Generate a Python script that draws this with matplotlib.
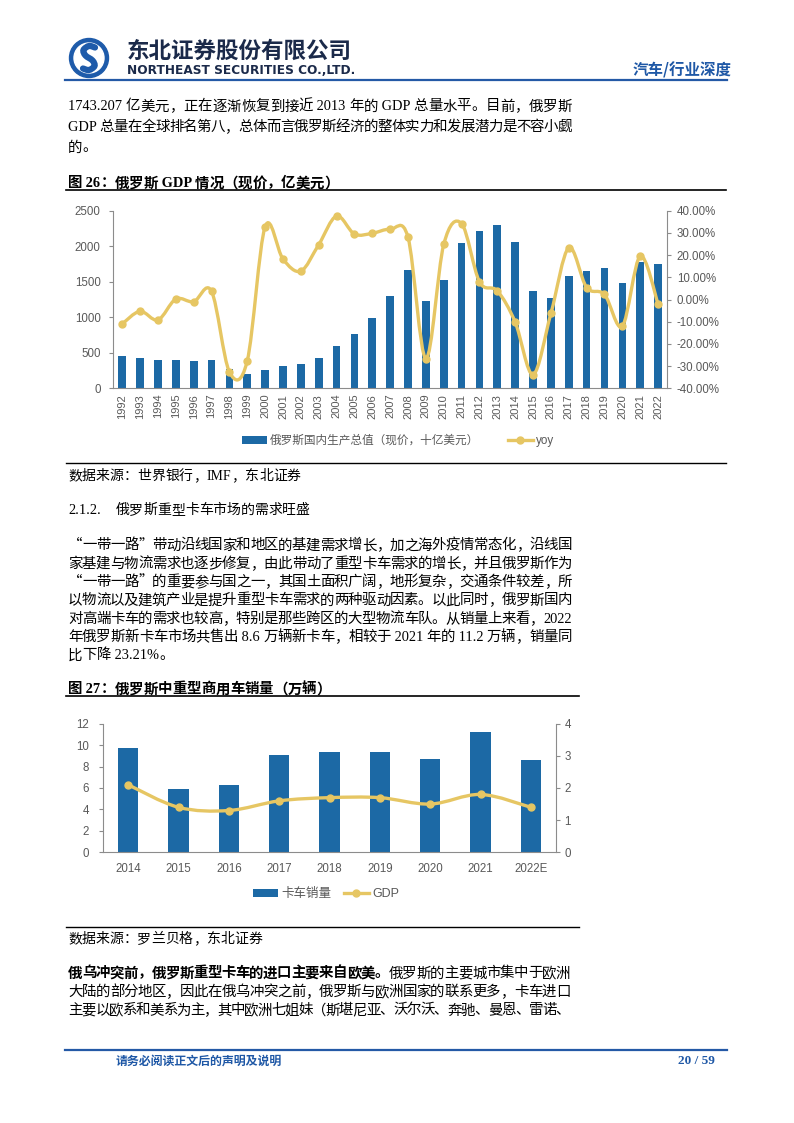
import matplotlib
matplotlib.use('Agg')
import matplotlib.pyplot as plt
from matplotlib.patches import Circle, PathPatch
from matplotlib.path import Path
from matplotlib.lines import Line2D
from matplotlib.ticker import FuncFormatter, MultipleLocator

plt.rcParams['font.family'] = ['Liberation Sans', 'Noto Sans CJK SC']

# ---- data: figure 26 ----
years1 = ['1992', '1993', '1994', '1995', '1996', '1997', '1998', '1999', '2000', '2001',
          '2002', '2003', '2004', '2005', '2006', '2007', '2008', '2009', '2010', '2011',
          '2012', '2013', '2014', '2015', '2016', '2017', '2018', '2019', '2020', '2021', '2022']
gdp_bn = [455, 430, 395, 395, 391, 404, 270, 196, 260, 307,
          345, 430, 591, 764, 990, 1300, 1661, 1222, 1525, 2046,
          2212, 2294, 2059, 1363, 1277, 1575, 1657, 1693, 1489, 1778, 1746]
yoy_pct = [-11.0, -5.3, -9.2, 0.2, -1.0, 3.7, -32.6, -27.6, 32.8, 18.2,
           12.8, 24.7, 37.6, 29.5, 29.8, 31.6, 28.0, -26.6, 24.8, 34.2,
           8.0, 3.9, -10.2, -33.8, -6.3, 23.3, 5.4, 2.3, -12.0, 19.5, -2.0]

# ---- data: figure 27 ----
years2 = ['2014', '2015', '2016', '2017', '2018', '2019', '2020', '2021', '2022E']
truck_sales = [9.7, 5.9, 6.3, 9.1, 9.4, 9.4, 8.7, 11.2, 8.6]
gdp_line = [2.1, 1.4, 1.3, 1.6, 1.7, 1.7, 1.5, 1.8, 1.4]

CJK = 'Noto Sans CJK SC'
SERIF = 'Liberation Serif'
BLUE = '#1C69A5'
GOLD = '#E6C663'
GREY = '#595959'
AXC = '#8C8C8C'
NAVY = '#1F58A6'

W, H = 794, 1123
fig = plt.figure(figsize=(W / 100, H / 100), dpi=100)
pg = fig.add_axes([0, 0, 1, 1], zorder=0)
pg.set_xlim(0, W)
pg.set_ylim(H, 0)
pg.axis('off')
rend = fig.canvas.get_renderer()


def fx(x):
    return x / W


def fy(y):
    return 1 - y / H


def wid(s, fam, wt, size):
    t = pg.text(0, 0, s, fontsize=size, family=fam, fontweight=wt)
    w = t.get_window_extent(rend).width
    t.remove()
    return w


adv_cache = {}


def adv(tk, fam, wt, size):
    key = (tk, wt, size)
    if key not in adv_cache:
        base = wid('\u4e00\u4e00', [fam, CJK], wt, size)
        adv_cache[key] = wid('\u4e00' + tk + '\u4e00', [fam, CJK], wt, size) - base
    return adv_cache[key]


def tokens(s):
    out = []
    buf = ''
    for ch in s:
        if ord(ch) < 0x2000:
            buf += ch
        else:
            if buf:
                out.append(buf)
                buf = ''
            out.append(ch)
    if buf:
        out.append(buf)
    return out


def put_line(x0, y, segs, size=10.4, x1=None, color='black'):
    # segs: list of (text, weight); y is the visual centre line in page px
    items = []
    for s, wt in segs:
        for tk in tokens(s):
            items.append((tk, wt))
    px = size * 100 / 72
    fams = [CJK if ord(tk[0]) >= 0x2000 else SERIF for tk, _ in items]
    widths = [adv(tk, f, wt, size) for (tk, wt), f in zip(items, fams)]
    gap = 0
    if x1 is not None and len(items) > 1:
        gap = (x1 - x0 - sum(widths)) / (len(items) - 1)
    x = x0
    for (tk, wt), f, w in zip(items, fams, widths):
        pg.text(x, y + 0.38 * px, tk, fontsize=size, family=f, fontweight=wt,
                color=color, va='baseline', ha='left')
        x += w + gap


def fit(x0, x1, y, s, fam, wt, color, base=10):
    w = wid(s, fam, wt, base)
    pg.text(x0, y, s, fontsize=base * (x1 - x0) / w, family=fam, fontweight=wt,
            color=color, va='center', ha='left')


def smooth_path(xs, ys):
    pts = list(zip(xs, ys))
    n = len(pts)
    verts = [pts[0]]
    codes = [Path.MOVETO]
    for i in range(n - 1):
        p0 = pts[i - 1] if i > 0 else pts[i]
        p1 = pts[i]
        p2 = pts[i + 1]
        p3 = pts[i + 2] if i + 2 < n else pts[i + 1]
        c1 = (p1[0] + (p2[0] - p0[0]) / 6, p1[1] + (p2[1] - p0[1]) / 6)
        c2 = (p2[0] - (p3[0] - p1[0]) / 6, p2[1] - (p3[1] - p1[1]) / 6)
        verts += [c1, c2, p2]
        codes += [Path.CURVE4] * 3
    return Path(verts, codes)


# ---------------- header ----------------
pg.add_patch(Circle((89, 58), 19.5, color='#1E5BAA'))
pg.add_patch(Circle((89, 58), 15, color='white'))
sx = [95, 89, 83.5, 85.5, 92.5, 94.5, 89, 83]
sy = [47.5, 46, 50, 55.5, 60.5, 66, 70, 68.5]
pg.add_patch(PathPatch(smooth_path(sx, sy), fill=False, edgecolor='#1E5BAA', lw=4.5,
                       capstyle='round'))
fit(127, 352, 51, '东北证券股份有限公司', CJK, 'bold', '#1B2A4A')
fit(127, 355, 70.5, 'NORTHEAST SECURITIES CO.,LTD.', 'DejaVu Sans', 'bold', '#1B2A4A')
fit(633, 732, 70, '汽车/行业深度', CJK, 'bold', NAVY)
pg.plot([65, 727], [80, 80], color='#2459A6', lw=1.6)

# ---------------- paragraph 1 ----------------
p1 = ['1743.207 亿美元，正在逐渐恢复到接近 2013 年的 GDP 总量水平。目前，俄罗斯',
      'GDP 总量在全球排名第八，总体而言俄罗斯经济的整体实力和发展潜力是不容小觑',
      '的。']
for i, s in enumerate(p1):
    put_line(68, 105 + 20.5 * i, [(s, 'normal')], x1=572 if i < len(p1) - 1 else None)

put_line(68, 182, [('图 26：俄罗斯 GDP 情况（现价，亿美元）', 'bold')])
pg.plot([66, 726], [189.5, 189.5], color='black', lw=1.2)

# ---------------- figure 26 ----------------
ax = fig.add_axes([fx(113.3), fy(388.3), (667 - 113.3) / W, (388.3 - 210.7) / H], zorder=2)
ax.set_facecolor('none')
x1s = list(range(len(years1)))
bars = ax.bar(x1s, gdp_bn, width=0.43, color=BLUE, zorder=2)
ax.set_xlim(-0.5, len(years1) - 0.5)
ax.set_ylim(0, 2500)
ax.yaxis.set_major_locator(MultipleLocator(500))
ax.set_xticks(x1s)
ax.set_xticklabels(years1, rotation=90)
ax.tick_params(axis='x', length=0, pad=4, labelsize=8, labelcolor=GREY)
ax.tick_params(axis='y', length=3, pad=6, labelsize=8.3, labelcolor=GREY, color=AXC)
for k in ['top', 'right']:
    ax.spines[k].set_visible(False)
for k in ['left', 'bottom']:
    ax.spines[k].set_color(AXC)
    ax.spines[k].set_linewidth(0.8)

ax2 = ax.twinx()
ax2.set_ylim(-40, 40)
ax2.yaxis.set_major_locator(MultipleLocator(10))
ax2.yaxis.set_major_formatter(FuncFormatter(lambda v, _: f'{v:.2f}%'))
ax2.tick_params(axis='y', length=3, pad=4, labelsize=8.3, labelcolor=GREY, color=AXC)
for k in ['top', 'left', 'bottom']:
    ax2.spines[k].set_visible(False)
ax2.spines['right'].set_color(AXC)
ax2.spines['right'].set_linewidth(0.8)
ax2.add_patch(PathPatch(smooth_path(x1s, yoy_pct), fill=False, edgecolor=GOLD, lw=2.4,
                        capstyle='round', joinstyle='round'))
ax2.plot(x1s, yoy_pct, 'o', color=GOLD, ms=5)
ax2.legend([bars, Line2D([0], [0], color=GOLD, lw=2.4, marker='o', ms=5)],
           ['俄罗斯国内生产总值（现价，十亿美元）', 'yoy'],
           loc='center', bbox_to_anchor=(fx(398), fy(441)), bbox_transform=fig.transFigure,
           ncol=2, frameon=False, fontsize=8.4, handlelength=2.15, handleheight=0.6,
           handletextpad=0.3, columnspacing=2.4, labelcolor=GREY)

pg.plot([66, 726], [463, 463], color='black', lw=1.0)
put_line(68, 474.5, [('数据来源：世界银行，IMF，东北证券', 'normal')], size=10)

# ---------------- section 2.1.2 ----------------
put_line(68, 509, [('2.1.2.', 'normal')])
put_line(115.5, 509, [('俄罗斯重型卡车市场的需求旺盛', 'normal')], size=10)

p2 = ['“一带一路”带动沿线国家和地区的基建需求增长，加之海外疫情常态化，沿线国',
      '家基建与物流需求也逐步修复，由此带动了重型卡车需求的增长，并且俄罗斯作为',
      '“一带一路”的重要参与国之一，其国土面积广阔，地形复杂，交通条件较差，所',
      '以物流以及建筑产业是提升重型卡车需求的两种驱动因素。以此同时，俄罗斯国内',
      '对高端卡车的需求也较高，特别是那些跨区的大型物流车队。从销量上来看，2022',
      '年俄罗斯新卡车市场共售出 8.6 万辆新卡车，相较于 2021 年的 11.2 万辆，销量同',
      '比下降 23.21%。']
for i, s in enumerate(p2):
    put_line(68, 544 + 18.3 * i, [(s, 'normal')], x1=572 if i < len(p2) - 1 else None)

put_line(68, 688, [('图 27：俄罗斯中重型商用车销量（万辆）', 'bold')])
pg.plot([66, 579], [696, 696], color='black', lw=1.2)

# ---------------- figure 27 ----------------
bx = fig.add_axes([fx(103), fy(852.3), (556 - 103) / W, (852.3 - 723.7) / H], zorder=2)
bx.set_facecolor('none')
x2s = list(range(len(years2)))
bars2 = bx.bar(x2s, truck_sales, width=0.4, color=BLUE, zorder=2)
bx.set_xlim(-0.5, len(years2) - 0.5)
bx.set_ylim(0, 12)
bx.yaxis.set_major_locator(MultipleLocator(2))
bx.set_xticks(x2s)
bx.set_xticklabels(years2)
bx.tick_params(axis='x', length=0, pad=8, labelsize=8.3, labelcolor=GREY)
bx.tick_params(axis='y', length=3, pad=7, labelsize=8.3, labelcolor=GREY, color=AXC)
for k in ['top', 'right']:
    bx.spines[k].set_visible(False)
for k in ['left', 'bottom']:
    bx.spines[k].set_color(AXC)
    bx.spines[k].set_linewidth(0.8)

bx2 = bx.twinx()
bx2.set_ylim(0, 4)
bx2.yaxis.set_major_locator(MultipleLocator(1))
bx2.tick_params(axis='y', length=3, pad=3, labelsize=8.3, labelcolor=GREY, color=AXC)
for k in ['top', 'left', 'bottom']:
    bx2.spines[k].set_visible(False)
bx2.spines['right'].set_color(AXC)
bx2.spines['right'].set_linewidth(0.8)
bx2.add_patch(PathPatch(smooth_path(x2s, gdp_line), fill=False, edgecolor=GOLD, lw=2.4,
                        capstyle='round', joinstyle='round'))
bx2.plot(x2s, gdp_line, 'o', color=GOLD, ms=5)
bx2.legend([bars2, Line2D([0], [0], color=GOLD, lw=2.4, marker='o', ms=5)],
           ['卡车销量', 'GDP'],
           loc='center', bbox_to_anchor=(fx(326), fy(894)), bbox_transform=fig.transFigure,
           ncol=2, frameon=False, fontsize=9, handlelength=2.0, handleheight=0.6,
           handletextpad=0.3, columnspacing=1.0, labelcolor=GREY)

pg.plot([66, 579], [927, 927], color='black', lw=1.0)
put_line(68, 937.5, [('数据来源：罗兰贝格，东北证券', 'normal')], size=10)

# ---------------- paragraph 3 ----------------
put_line(68, 972, [('俄乌冲突前，俄罗斯重型卡车的进口主要来自欧美。', 'bold'),
                   ('俄罗斯的主要城市集中于欧洲', 'normal')], x1=570)
put_line(68, 990.5, [('大陆的部分地区，因此在俄乌冲突之前，俄罗斯与欧洲国家的联系更多，卡车进口', 'normal')], x1=570)
put_line(68, 1009, [('主要以欧系和美系为主，其中欧洲七姐妹（斯堪尼亚、沃尔沃、奔驰、曼恩、雷诺、', 'normal')], x1=570)

# ---------------- footer ----------------
pg.plot([65, 727], [1050, 1050], color='#2459A6', lw=1.6)
fit(116, 283, 1061, '请务必阅读正文后的声明及说明', CJK, 'bold', NAVY)
pg.text(715, 1061, '20 / 59', fontsize=9.5, family=SERIF, fontweight='bold', color=NAVY,
        ha='right', va='center')

fig.savefig('out.png', dpi=100)
